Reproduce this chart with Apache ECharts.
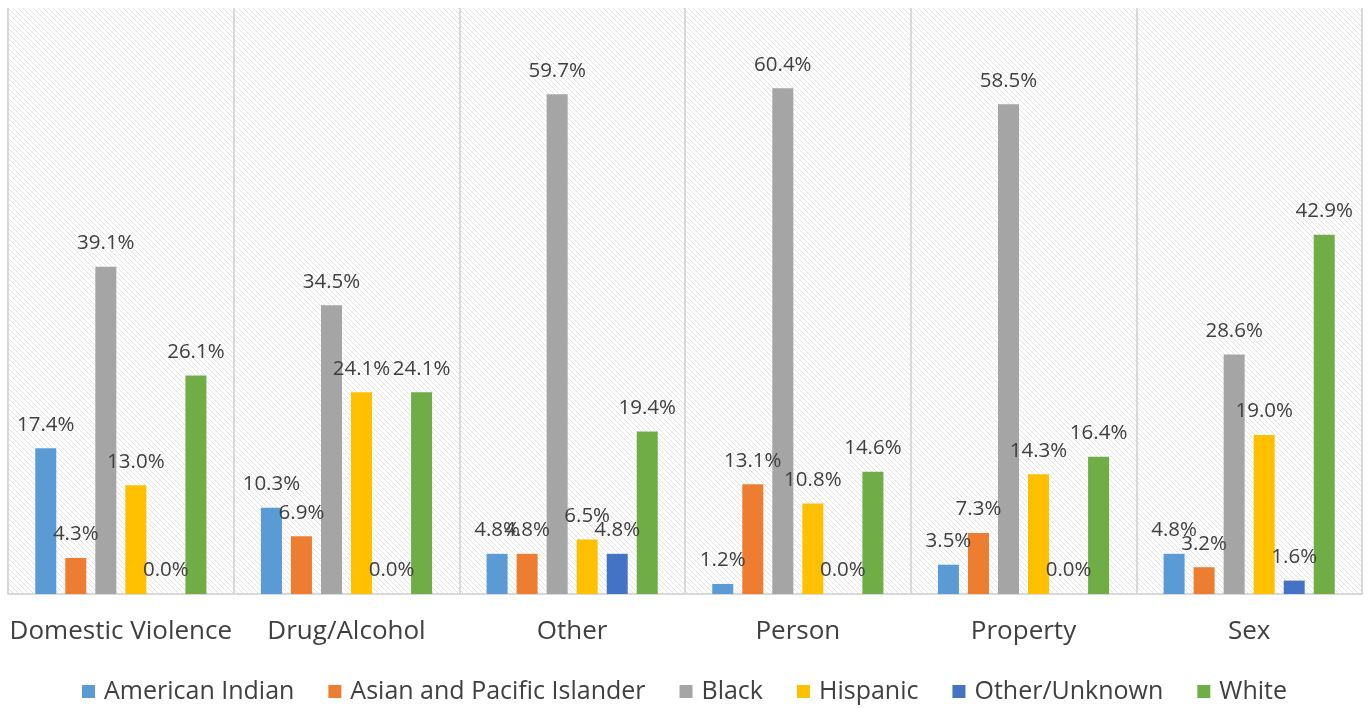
<!DOCTYPE html>
<html><head><meta charset="utf-8">
<script src="https://cdn.jsdelivr.net/npm/echarts@6/dist/echarts.min.js"></script>
<style>html,body{margin:0;padding:0;background:#fff}#c{width:1369px;height:708px}</style>
</head><body><div id="c"></div>
<script>
const categories = ['Domestic Violence','Drug/Alcohol','Other','Person','Property','Sex'];
const seriesNames = ['American Indian','Asian and Pacific Islander','Black','Hispanic','Other/Unknown','White'];
const americanIndian = [17.4, 10.3, 4.8, 1.2, 3.5, 4.8];
const asianPacific = [4.3, 6.9, 4.8, 13.1, 7.3, 3.2];
const black = [39.1, 34.5, 59.7, 60.4, 58.5, 28.6];
const hispanic = [13.0, 24.1, 6.5, 10.8, 14.3, 19.0];
const otherUnknown = [0.0, 0.0, 4.8, 0.0, 0.0, 1.6];
const white = [26.1, 24.1, 19.4, 14.6, 16.4, 42.9];
const seriesData = [americanIndian, asianPacific, black, hispanic, otherUnknown, white];
const colors = ['#5B9BD5','#ED7D31','#A5A5A5','#FFC000','#4472C4','#70AD47'];

const tile = document.createElement('canvas');
tile.width = 5; tile.height = 5;
const tc = tile.getContext('2d');
tc.fillStyle = '#ffffff'; tc.fillRect(0,0,5,5);
tc.fillStyle = '#e3e3e3';
for (let i = 0; i < 5; i++) { tc.fillRect(i, i, 1, 1); }

const font = '"Open Sans", sans-serif';
const chart = echarts.init(document.getElementById('c'));
chart.setOption({
  animation: false,
  color: colors,
  grid: { left: 8, right: 7, top: 8, bottom: 114, show: true, borderWidth: 0,
          backgroundColor: { image: tile, repeat: 'repeat' } },
  legend: { top: 674, left: 'center', itemWidth: 13, itemHeight: 13, itemGap: 34,
            icon: 'rect', textStyle: { fontSize: 25, color: '#404040', fontFamily: font, padding: [0,0,0,4] },
            data: seriesNames },
  xAxis: { type: 'category', data: categories,
           axisLine: { lineStyle: { color: '#d9d9d9', width: 2 } },
           axisTick: { show: false },
           splitLine: { show: true, interval: 0, lineStyle: { color: '#d9d9d9', width: 2 } },
           axisLabel: { interval: 0, fontSize: 26, color: '#404040', fontFamily: font, margin: 25 } },
  yAxis: { type: 'value', min: 0, max: 70, show: false, splitLine: { show: false } },
  series: seriesNames.map((n, i) => ({
    name: n, type: 'bar', data: seriesData[i], barWidth: 21, barGap: '43%',
    label: { show: true, position: 'top', distance: 13, fontSize: 20.5, color: '#404040',
             fontFamily: font, formatter: p => p.value.toFixed(1) + '%' }
  }))
});
</script></body></html>
